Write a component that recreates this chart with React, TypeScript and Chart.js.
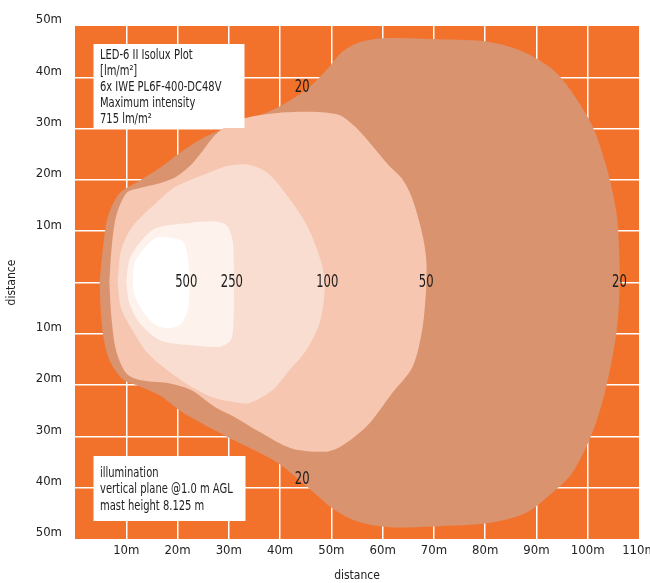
import { useEffect, useRef } from 'react';
import { Chart, registerables } from 'chart.js';

Chart.register(...registerables);

// Isolux contour outlines [distance x (m), distance y (m)]
const iso20: [number, number][] = [
  [4.8, 0], [5.4, 6.3], [6.4, 12.8], [8.7, 17.4], [12.5, 19.8], [16.5, 22.3], [20.5, 25.3], [25.8, 28.6],
  [32.4, 31.2], [38.9, 33.8], [45.3, 37.7], [49.2, 41.6], [51.9, 44.8], [55.1, 46.7], [60, 47.6],
  [71.1, 47.4], [80.8, 46.9], [87.2, 45.1], [93.1, 41.6], [97, 37], [100.9, 30.5], [103.6, 22.7],
  [105.6, 13.6], [106.2, 4.6], [106.2, -2], [105.6, -9.8], [103.6, -20.4], [100.9, -29.3], [97, -37.1],
  [93.1, -41], [88, -44.9], [80.8, -46.9], [71.1, -47.5], [61.3, -47.7], [55.1, -46.6], [50.6, -44.3],
  [45.3, -39.8], [40.2, -35.6], [35.6, -33], [29.7, -30.1], [24.6, -27.4], [20.5, -25], [16.5, -22],
  [12.5, -20.2], [9.5, -19], [7.3, -16.3], [5.9, -12.5], [5.1, -6.7], [4.8, 0],
];
const iso50: [number, number][] = [
  [6.7, 0], [7.1, 6.3], [8.0, 12.8], [10.0, 17.4], [12.6, 18.4], [16, 19.2], [19.4, 20.4], [22.5, 22.8],
  [24.6, 25.3], [27.8, 29.2], [32.4, 31.8], [38.9, 33], [45, 33.3], [49.2, 33.1], [51.9, 32.5],
  [55.1, 29.9], [58, 26.6], [61.3, 22.7], [63.8, 20.2], [65.8, 16.3], [67.7, 9.6], [68.5, 4.6],
  [68.5, -1], [67.7, -9.3], [65.8, -16.5], [61.9, -21.5], [58, -26.8], [55.5, -29.3], [51.6, -32.1],
  [48.6, -33], [42.1, -32.3], [36.3, -29.3], [31.1, -26.2], [27.2, -24.2], [22.7, -21], [18, -19.6],
  [12.6, -19], [10, -17.7], [8, -13.2], [7.1, -6.7], [6.7, 0],
];
const iso100: [number, number][] = [
  [8.3, 0], [9, 6.3], [11.2, 10.9], [15.8, 15.5], [19.5, 18.6], [24.6, 20.8], [29.7, 22.7], [33.6, 23],
  [37.5, 21.4], [41.4, 16.9], [45.3, 11], [48, 4], [48.7, -1], [47.7, -7.9], [45.1, -13.2], [41.8, -17.1],
  [38.5, -21], [34, -23.5], [31.7, -23.4], [27.2, -22.5], [22.7, -20.3], [18, -17.1], [14.1, -13.7],
  [11.2, -9.3], [9, -5], [8.3, 0],
];
const iso250: [number, number][] = [
  [10, 0], [10.6, 4.4], [12.6, 7.7], [15.8, 10.6], [22.3, 11.6], [27.2, 11.9], [29.5, 11.2], [30.6, 8.9],
  [30.9, 6.3], [31, -1], [30.9, -7.9], [30.4, -11.2], [28.2, -12.5], [22.3, -12.2], [16.5, -11.2],
  [12.6, -7.9], [10.6, -4], [10, 0],
];
const iso500: [number, number][] = [
  [11.3, 0], [11.6, 3.8], [13.2, 6.3], [15.8, 8.7], [18.4, 8.7], [21, 8], [22, 5], [22.3, 0],
  [22, -5.4], [20.4, -8.3], [17.8, -8.9], [15.2, -7.9], [12.6, -4.7], [11.5, -2], [11.3, 0],
];

const isoLevels = ['20', '50', '100', '250', '500'];
const isoShapes = [iso20, iso50, iso100, iso250, iso500];

// Contour value labels
const labelText = ['500', '250', '100', '50', '20', '20', '20'];
const labelX = [21.7, 30.6, 49.2, 68.5, 106.2, 44.3, 44.3];
const labelY = [0, 0, 0, 0, 0, 37.9, -38.5];

const infoLines = ['LED-6 II Isolux Plot', '[lm/m²]', '6x IWE PL6F-400-DC48V', 'Maximum intensity', '715 lm/m²'];
const noteLines = ['illumination', 'vertical plane @1.0 m AGL', 'mast height 8.125 m'];

const FONT = '"DejaVu Sans Condensed", "DejaVu Sans", sans-serif';
const fillColors = ['#D9936F', '#F6C6B0', '#F9DDD1', '#FDF2EC', '#FFFFFF'];

const bgPlugin = {
  id: 'orangeBg',
  beforeDraw(chart: any) {
    const { ctx, chartArea } = chart;
    ctx.save();
    ctx.fillStyle = '#F2712B';
    ctx.fillRect(chartArea.left, chartArea.top, chartArea.right - chartArea.left, chartArea.bottom - chartArea.top);
    ctx.restore();
  },
};

const condensedText = (ctx: CanvasRenderingContext2D, t: string, x: number, y: number, squeeze: number) => {
  const w = ctx.measureText(t).width;
  ctx.fillText(t, x, y, w * squeeze);
};

const textPlugin = {
  id: 'isoText',
  afterDatasetsDraw(chart: any) {
    const { ctx, chartArea, scales } = chart;
    ctx.save();
    ctx.fillStyle = '#1c1c1c';
    ctx.font = `17px ${FONT}`;
    ctx.textAlign = 'center';
    ctx.textBaseline = 'middle';
    labelText.forEach((t, i) => {
      condensedText(ctx, t, scales.x.getPixelForValue(labelX[i]), scales.y.getPixelForValue(labelY[i]), 0.76);
    });
    const drawBox = (lines: string[], left: number, top: number, w: number, h: number, first: number) => {
      ctx.fillStyle = '#FFFFFF';
      ctx.fillRect(left, top, w, h);
      ctx.fillStyle = '#222222';
      ctx.font = `14px ${FONT}`;
      ctx.textAlign = 'left';
      ctx.textBaseline = 'middle';
      lines.forEach((l, i) => condensedText(ctx, l, left + 6.5, top + first + i * 16.2, 0.79));
    };
    drawBox(infoLines, chartArea.left + 18.5, chartArea.top + 18, 151, 84, 11);
    drawBox(noteLines, chartArea.left + 18.5, chartArea.bottom - 83, 152, 65, 17.5);
    ctx.restore();
  },
};

export default function App() {
  const canvasRef = useRef<HTMLCanvasElement | null>(null);

  useEffect(() => {
    if (!canvasRef.current) return;
    const gridColor = (edgeA: number, edgeB: number) => (c: any) =>
      c.tick && (c.tick.value === edgeA || c.tick.value === edgeB) ? 'rgba(0,0,0,0)' : '#FFFFFF';
    const chart = new Chart(canvasRef.current, {
      type: 'line',
      data: {
        datasets: isoShapes.map((shape, i) => ({
          label: isoLevels[i],
          data: shape.map(([x, y]) => ({ x, y })),
          backgroundColor: fillColors[i],
          borderColor: fillColors[i],
          borderWidth: 0,
          pointRadius: 0,
          tension: 0.3,
          fill: 'shape',
          order: isoShapes.length - i,
        })),
      },
      plugins: [bgPlugin, textPlugin],
      options: {
        animation: false,
        responsive: true,
        maintainAspectRatio: false,
        layout: { padding: { top: 26, right: 11, left: 0, bottom: 0 } },
        plugins: { legend: { display: false }, tooltip: { enabled: false } },
        font: { family: FONT },
        scales: {
          x: {
            type: 'linear',
            min: 0,
            max: 110,
            border: { display: false },
            grid: { color: gridColor(0, 110), lineWidth: 1.5, drawTicks: false },
            ticks: {
              stepSize: 10,
              autoSkip: false,
              maxRotation: 0,
              padding: 4,
              color: '#222',
              font: { family: FONT, size: 13 },
              callback: (v: any) => (v === 0 ? '' : `${v}m`),
            },
            title: { display: true, text: 'distance', color: '#222', font: { family: FONT, size: 12 }, padding: { top: 0, bottom: 0 } },
            afterFit: (s: any) => {
              s.height = 44;
              s.paddingLeft = 0;
              s.paddingRight = 0;
            },
          },
          y: {
            type: 'linear',
            min: -50,
            max: 50,
            border: { display: false },
            grid: { color: gridColor(-50, 50), lineWidth: 1.5, drawTicks: false },
            ticks: {
              stepSize: 10,
              autoSkip: false,
              padding: 13,
              labelOffset: -6,
              color: '#222',
              font: { family: FONT, size: 13 },
              callback: (v: any) => (v === 0 ? '' : `${Math.abs(v)}m`),
            },
            title: { display: true, text: 'distance', color: '#222', font: { family: FONT, size: 12 }, padding: { top: 5, bottom: 0 } },
            afterFit: (s: any) => {
              s.width = 75;
              s.paddingTop = 0;
              s.paddingBottom = 0;
            },
          },
        },
      } as any,
    });
    return () => chart.destroy();
  }, []);

  return (
    <div style={{ position: 'absolute', left: 0, top: 0, width: 650, height: 583 }}>
      <canvas ref={canvasRef} />
    </div>
  );
}
